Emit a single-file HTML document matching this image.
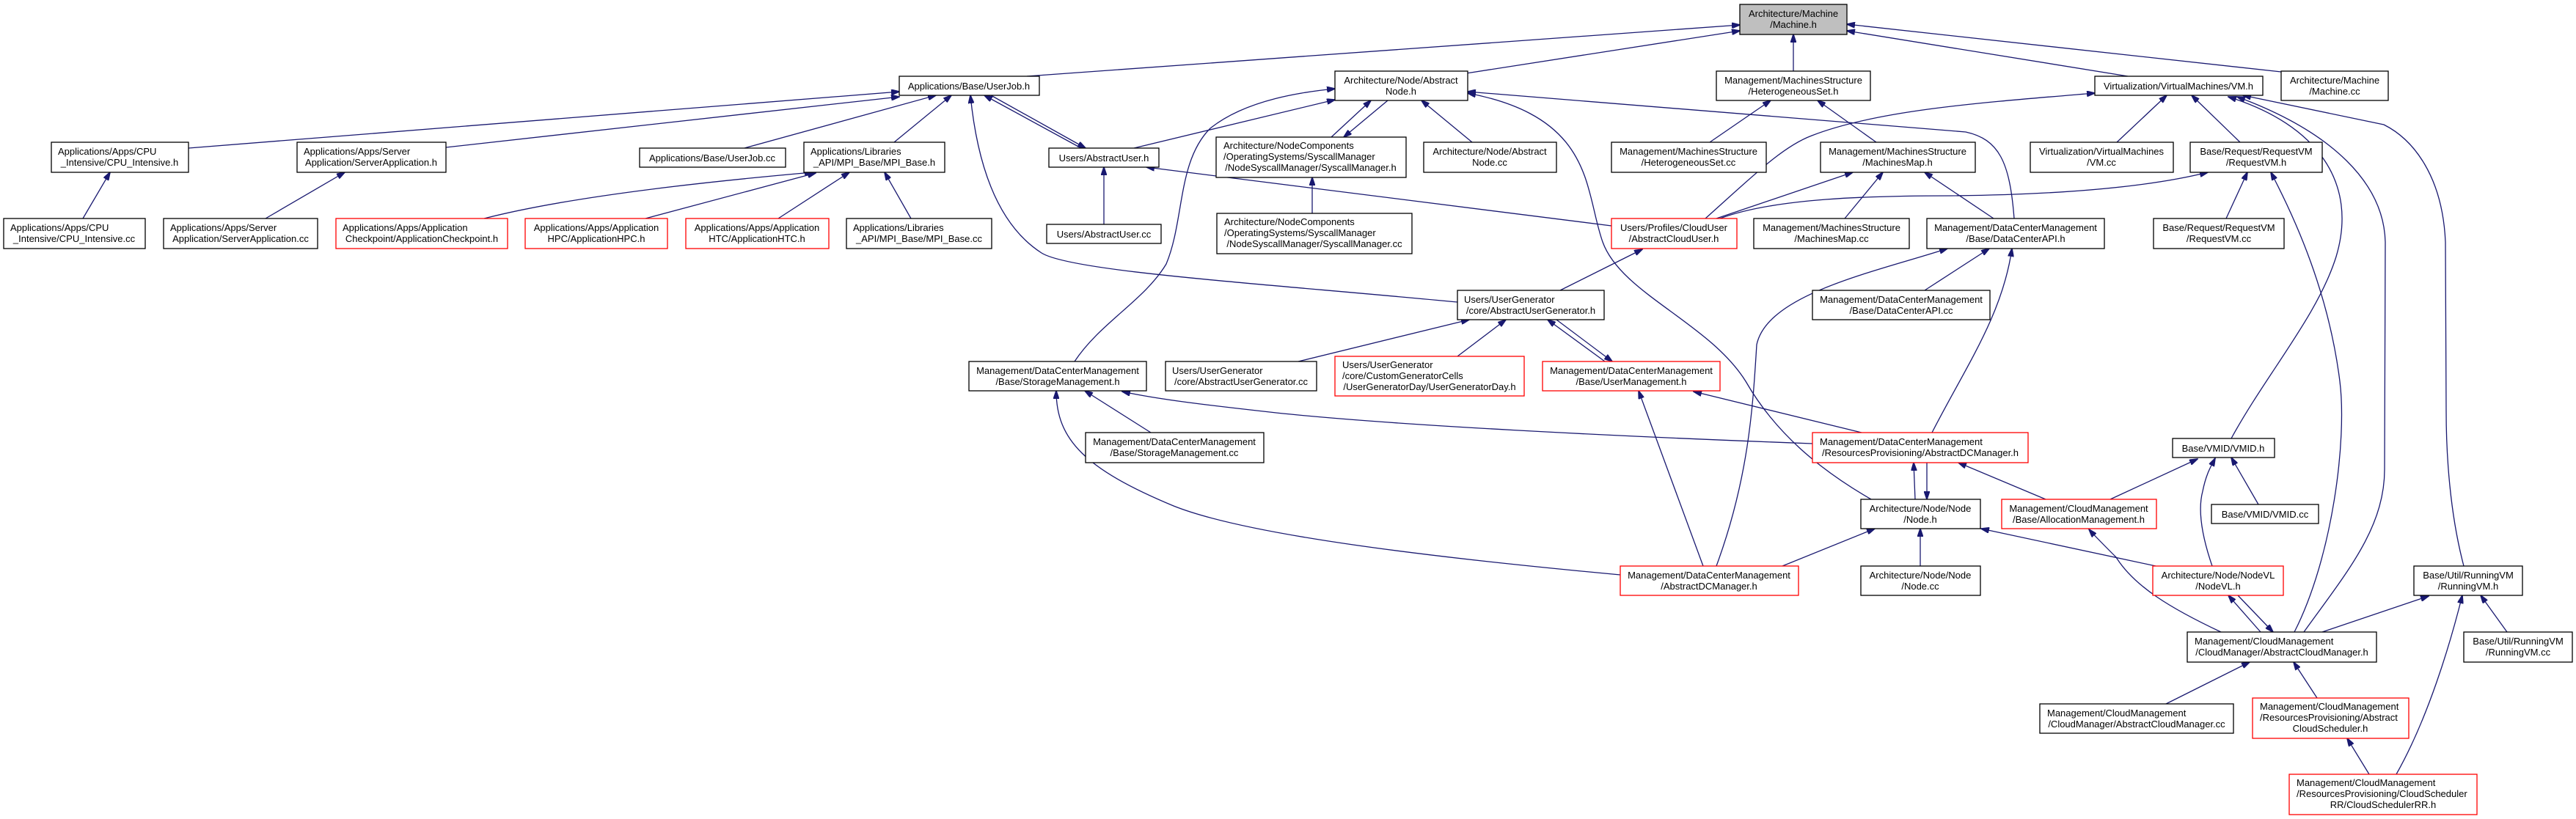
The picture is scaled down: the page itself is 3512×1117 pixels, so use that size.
<!DOCTYPE html>
<html><head><meta charset="utf-8"><style>
html,body{margin:0;padding:0;background:#fff;}
svg{display:block;}
text{font-family:"Liberation Sans",sans-serif;font-size:13px;fill:#000;}
.n{fill:#fff;stroke:#000;stroke-width:1.3;}
.r{fill:#fff;stroke:#ff0000;stroke-width:1.3;}
.g{fill:#bfbfbf;stroke:#000;stroke-width:1.3;}
.e{fill:none;stroke:#191970;stroke-width:1.3;marker-end:url(#a);}
</style></head><body>
<svg width="3512" height="1117" viewBox="0 0 3512 1117" xmlns="http://www.w3.org/2000/svg">
<defs><marker id="a" markerWidth="12" markerHeight="8" refX="11" refY="4" orient="auto" markerUnits="userSpaceOnUse"><path d="M0,0 L12,4 L0,8 z" fill="#191970" stroke="#191970"/></marker></defs>
<rect width="3512" height="1117" fill="#fff"/>
<!-- edges -->
<path class="e" d="M1400,104 L2372,34"/>
<path class="e" d="M1999,100 L2372,42"/>
<path class="e" d="M2445,97 L2445,47"/>
<path class="e" d="M2901,104 L2518,42"/>
<path class="e" d="M3110,98 L2518,33"/>
<path class="e" d="M257,202 L1226,125"/>
<path class="e" d="M608,201 L1226,132"/>
<path class="e" d="M1015,202 L1276,130"/>
<path class="e" d="M1219,194 L1297,130"/>
<path class="e" d="M1474,202 L1342,130"/>
<path class="e" d="M1351,130 L1480,202"/>
<path class="e" d="M1987,412 C1700,385 1460,370 1420,345 C1350,300 1330,200 1323,130"/>
<path class="e" d="M113,298 L150,235"/>
<path class="e" d="M362,298 L470,235"/>
<path class="e" d="M660,298 Q800,262 1108,235"/>
<path class="e" d="M880,298 L1112,236"/>
<path class="e" d="M1061,298 L1158,235"/>
<path class="e" d="M1242,298 L1206,235"/>
<path class="e" d="M1505,306 L1505,228"/>
<path class="e" d="M2197,308 L1563,228"/>
<path class="e" d="M1546,202 L1820,136"/>
<path class="e" d="M1815,187 L1869,137"/>
<path class="e" d="M1892,137 L1832,187"/>
<path class="e" d="M2007,194 L1938,137"/>
<path class="e" d="M1789,291 L1789,242"/>
<path class="e" d="M1465,493 C1500,440 1560,410 1590,360 C1615,300 1605,220 1650,175 C1700,135 1780,125 1820,121"/>
<path class="e" d="M2551,681 C2480,640 2420,590 2380,520 C2330,440 2210,400 2185,330 C2160,260 2175,160 2001,127"/>
<path class="e" d="M2746,298 C2740,220 2725,190 2680,180 L2001,125"/>
<path class="e" d="M2331,194 L2414,137"/>
<path class="e" d="M2558,194 L2478,137"/>
<path class="e" d="M2340,298 L2526,235"/>
<path class="e" d="M2515,298 L2567,235"/>
<path class="e" d="M2718,298 L2624,235"/>
<path class="e" d="M2325,298 C2390,240 2430,200 2470,185 C2560,150 2700,140 2856,127"/>
<path class="e" d="M2345,298 C2420,270 2550,267 2660,267 C2850,265 2950,250 3010,235"/>
<path class="e" d="M2127,396 L2239,340"/>
<path class="e" d="M2624,396 L2712,339"/>
<path class="e" d="M2634,590 C2680,500 2730,430 2743,339"/>
<path class="e" d="M2340,772 C2385,650 2390,550 2395,470 C2410,400 2560,370 2655,339"/>
<path class="e" d="M2886,194 L2954,130"/>
<path class="e" d="M3054,194 L2988,130"/>
<path class="e" d="M3035,298 L3064,235"/>
<path class="e" d="M3128,862 C3180,760 3200,600 3190,520 C3175,400 3130,300 3096,235"/>
<path class="e" d="M3042,598 C3090,510 3160,430 3185,350 C3215,250 3160,170 3038,132"/>
<path class="e" d="M3141,862 C3200,780 3251,720 3251,640 L3252,330 C3250,250 3180,180 3050,132"/>
<path class="e" d="M3359,772 C3340,700 3335,620 3335,560 L3334,330 C3330,240 3290,190 3250,170 L3058,130"/>
<path class="e" d="M2538,590 L2309,534"/>
<path class="e" d="M2471,605 C2200,595 1900,580 1740,563 C1650,553 1580,545 1530,534"/>
<path class="e" d="M2611,681 L2609,631"/>
<path class="e" d="M2627,631 L2627,681"/>
<path class="e" d="M2789,681 L2670,631"/>
<path class="e" d="M2877,681 L2996,626"/>
<path class="e" d="M3016,772 C3005,740 2995,700 3003,670 C3008,645 3015,635 3020,625"/>
<path class="e" d="M3079,688 L3042,624"/>
<path class="e" d="M2618,772 L2618,721"/>
<path class="e" d="M2939,772 L2701,721"/>
<path class="e" d="M2430,772 L2556,721"/>
<path class="e" d="M2209,784 C1950,760 1700,730 1600,690 C1480,640 1440,600 1440,533"/>
<path class="e" d="M2322,772 L2234,533"/>
<path class="e" d="M2188,493 L2110,436"/>
<path class="e" d="M2122,436 L2198,493"/>
<path class="e" d="M1770,493 L2003,436"/>
<path class="e" d="M1987,486 L2053,436"/>
<path class="e" d="M1569,590 L1479,533"/>
<path class="e" d="M3028,862 C2960,830 2910,800 2885,760 C2865,740 2855,730 2848,722"/>
<path class="e" d="M3082,862 L3038,812"/>
<path class="e" d="M3051,812 L3099,862"/>
<path class="e" d="M3166,862 L3311,813"/>
<path class="e" d="M3418,862 L3382,812"/>
<path class="e" d="M3267,1056 C3310,980 3340,880 3357,812"/>
<path class="e" d="M2953,960 L3067,903"/>
<path class="e" d="M3159,952 L3127,903"/>
<path class="e" d="M3230,1056 L3200,1007"/>
<!-- nodes -->
<rect class="g" x="2372" y="6" width="146" height="41"/>
<text x="2445" y="23" text-anchor="middle">Architecture/Machine</text><text x="2445" y="38" text-anchor="middle">/Machine.h</text>
<rect class="n" x="1226" y="104" width="191" height="26"/>
<text x="1321" y="122" text-anchor="middle">Applications/Base/UserJob.h</text>
<rect class="n" x="1820" y="97" width="181" height="40"/>
<text x="1910" y="114" text-anchor="middle">Architecture/Node/Abstract</text><text x="1910" y="129" text-anchor="middle">Node.h</text>
<rect class="n" x="2340" y="97" width="210" height="40"/>
<text x="2445" y="114" text-anchor="middle">Management/MachinesStructure</text><text x="2445" y="129" text-anchor="middle">/HeterogeneousSet.h</text>
<rect class="n" x="2856" y="104" width="229" height="26"/>
<text x="2970" y="122" text-anchor="middle">Virtualization/VirtualMachines/VM.h</text>
<rect class="n" x="3110" y="97" width="146" height="40"/>
<text x="3183" y="114" text-anchor="middle">Architecture/Machine</text><text x="3183" y="129" text-anchor="middle">/Machine.cc</text>
<rect class="n" x="70" y="194" width="187" height="41"/>
<text x="79" y="211">Applications/Apps/CPU</text><text x="163" y="226" text-anchor="middle">_Intensive/CPU_Intensive.h</text>
<rect class="n" x="405" y="194" width="203" height="41"/>
<text x="414" y="211">Applications/Apps/Server</text><text x="506" y="226" text-anchor="middle">Application/ServerApplication.h</text>
<rect class="n" x="872" y="202" width="199" height="26"/>
<text x="971" y="220" text-anchor="middle">Applications/Base/UserJob.cc</text>
<rect class="n" x="1096" y="194" width="192" height="41"/>
<text x="1105" y="211">Applications/Libraries</text><text x="1192" y="226" text-anchor="middle">_API/MPI_Base/MPI_Base.h</text>
<rect class="n" x="1430" y="202" width="150" height="26"/>
<text x="1505" y="220" text-anchor="middle">Users/AbstractUser.h</text>
<rect class="n" x="1658" y="187" width="259" height="55"/>
<text x="1668" y="203">Architecture/NodeComponents</text><text x="1668" y="218">/OperatingSystems/SyscallManager</text><text x="1787" y="233" text-anchor="middle">/NodeSyscallManager/SyscallManager.h</text>
<rect class="n" x="1941" y="194" width="181" height="41"/>
<text x="2031" y="211" text-anchor="middle">Architecture/Node/Abstract</text><text x="2031" y="226" text-anchor="middle">Node.cc</text>
<rect class="n" x="2197" y="194" width="211" height="41"/>
<text x="2302" y="211" text-anchor="middle">Management/MachinesStructure</text><text x="2302" y="226" text-anchor="middle">/HeterogeneousSet.cc</text>
<rect class="n" x="2482" y="194" width="211" height="41"/>
<text x="2587" y="211" text-anchor="middle">Management/MachinesStructure</text><text x="2587" y="226" text-anchor="middle">/MachinesMap.h</text>
<rect class="n" x="2768" y="194" width="195" height="41"/>
<text x="2865" y="211" text-anchor="middle">Virtualization/VirtualMachines</text><text x="2865" y="226" text-anchor="middle">/VM.cc</text>
<rect class="n" x="2986" y="194" width="180" height="41"/>
<text x="3076" y="211" text-anchor="middle">Base/Request/RequestVM</text><text x="3076" y="226" text-anchor="middle">/RequestVM.h</text>
<rect class="n" x="5" y="298" width="193" height="41"/>
<text x="14" y="315">Applications/Apps/CPU</text><text x="101" y="330" text-anchor="middle">_Intensive/CPU_Intensive.cc</text>
<rect class="n" x="223" y="298" width="210" height="41"/>
<text x="232" y="315">Applications/Apps/Server</text><text x="328" y="330" text-anchor="middle">Application/ServerApplication.cc</text>
<rect class="r" x="458" y="298" width="234" height="41"/>
<text x="467" y="315">Applications/Apps/Application</text><text x="575" y="330" text-anchor="middle">Checkpoint/ApplicationCheckpoint.h</text>
<rect class="r" x="716" y="298" width="194" height="41"/>
<text x="813" y="315" text-anchor="middle">Applications/Apps/Application</text><text x="813" y="330" text-anchor="middle">HPC/ApplicationHPC.h</text>
<rect class="r" x="935" y="298" width="195" height="41"/>
<text x="1032" y="315" text-anchor="middle">Applications/Apps/Application</text><text x="1032" y="330" text-anchor="middle">HTC/ApplicationHTC.h</text>
<rect class="n" x="1154" y="298" width="198" height="41"/>
<text x="1163" y="315">Applications/Libraries</text><text x="1253" y="330" text-anchor="middle">_API/MPI_Base/MPI_Base.cc</text>
<rect class="n" x="1427" y="306" width="156" height="26"/>
<text x="1505" y="324" text-anchor="middle">Users/AbstractUser.cc</text>
<rect class="n" x="1659" y="291" width="266" height="55"/>
<text x="1669" y="307">Architecture/NodeComponents</text><text x="1669" y="322">/OperatingSystems/SyscallManager</text><text x="1792" y="337" text-anchor="middle">/NodeSyscallManager/SyscallManager.cc</text>
<rect class="r" x="2197" y="298" width="171" height="41"/>
<text x="2282" y="315" text-anchor="middle">Users/Profiles/CloudUser</text><text x="2282" y="330" text-anchor="middle">/AbstractCloudUser.h</text>
<rect class="n" x="2391" y="298" width="212" height="41"/>
<text x="2497" y="315" text-anchor="middle">Management/MachinesStructure</text><text x="2497" y="330" text-anchor="middle">/MachinesMap.cc</text>
<rect class="n" x="2627" y="298" width="242" height="41"/>
<text x="2748" y="315" text-anchor="middle">Management/DataCenterManagement</text><text x="2748" y="330" text-anchor="middle">/Base/DataCenterAPI.h</text>
<rect class="n" x="2936" y="298" width="178" height="41"/>
<text x="3025" y="315" text-anchor="middle">Base/Request/RequestVM</text><text x="3025" y="330" text-anchor="middle">/RequestVM.cc</text>
<rect class="n" x="1987" y="396" width="200" height="40"/>
<text x="1996" y="413">Users/UserGenerator</text><text x="2087" y="428" text-anchor="middle">/core/AbstractUserGenerator.h</text>
<rect class="n" x="2471" y="396" width="242" height="40"/>
<text x="2592" y="413" text-anchor="middle">Management/DataCenterManagement</text><text x="2592" y="428" text-anchor="middle">/Base/DataCenterAPI.cc</text>
<rect class="n" x="1321" y="493" width="242" height="40"/>
<text x="1442" y="510" text-anchor="middle">Management/DataCenterManagement</text><text x="1442" y="525" text-anchor="middle">/Base/StorageManagement.h</text>
<rect class="n" x="1589" y="493" width="206" height="40"/>
<text x="1598" y="510">Users/UserGenerator</text><text x="1692" y="525" text-anchor="middle">/core/AbstractUserGenerator.cc</text>
<rect class="r" x="1820" y="486" width="258" height="54"/>
<text x="1830" y="502">Users/UserGenerator</text><text x="1830" y="517">/core/CustomGeneratorCells</text><text x="1949" y="532" text-anchor="middle">/UserGeneratorDay/UserGeneratorDay.h</text>
<rect class="r" x="2103" y="493" width="242" height="40"/>
<text x="2224" y="510" text-anchor="middle">Management/DataCenterManagement</text><text x="2224" y="525" text-anchor="middle">/Base/UserManagement.h</text>
<rect class="n" x="1480" y="590" width="243" height="41"/>
<text x="1601" y="607" text-anchor="middle">Management/DataCenterManagement</text><text x="1601" y="622" text-anchor="middle">/Base/StorageManagement.cc</text>
<rect class="r" x="2471" y="590" width="294" height="41"/>
<text x="2481" y="607">Management/DataCenterManagement</text><text x="2618" y="622" text-anchor="middle">/ResourcesProvisioning/AbstractDCManager.h</text>
<rect class="n" x="2962" y="598" width="139" height="26"/>
<text x="3031" y="616" text-anchor="middle">Base/VMID/VMID.h</text>
<rect class="n" x="2537" y="681" width="163" height="40"/>
<text x="2618" y="698" text-anchor="middle">Architecture/Node/Node</text><text x="2618" y="713" text-anchor="middle">/Node.h</text>
<rect class="r" x="2729" y="681" width="211" height="40"/>
<text x="2834" y="698" text-anchor="middle">Management/CloudManagement</text><text x="2834" y="713" text-anchor="middle">/Base/AllocationManagement.h</text>
<rect class="n" x="3015" y="688" width="146" height="26"/>
<text x="3088" y="706" text-anchor="middle">Base/VMID/VMID.cc</text>
<rect class="r" x="2209" y="772" width="243" height="40"/>
<text x="2330" y="789" text-anchor="middle">Management/DataCenterManagement</text><text x="2330" y="804" text-anchor="middle">/AbstractDCManager.h</text>
<rect class="n" x="2537" y="772" width="163" height="40"/>
<text x="2618" y="789" text-anchor="middle">Architecture/Node/Node</text><text x="2618" y="804" text-anchor="middle">/Node.cc</text>
<rect class="r" x="2935" y="772" width="178" height="40"/>
<text x="3024" y="789" text-anchor="middle">Architecture/Node/NodeVL</text><text x="3024" y="804" text-anchor="middle">/NodeVL.h</text>
<rect class="n" x="3291" y="772" width="148" height="40"/>
<text x="3365" y="789" text-anchor="middle">Base/Util/RunningVM</text><text x="3365" y="804" text-anchor="middle">/RunningVM.h</text>
<rect class="n" x="2982" y="862" width="258" height="41"/>
<text x="2992" y="879">Management/CloudManagement</text><text x="3111" y="894" text-anchor="middle">/CloudManager/AbstractCloudManager.h</text>
<rect class="n" x="3359" y="862" width="148" height="41"/>
<text x="3433" y="879" text-anchor="middle">Base/Util/RunningVM</text><text x="3433" y="894" text-anchor="middle">/RunningVM.cc</text>
<rect class="n" x="2781" y="960" width="264" height="40"/>
<text x="2791" y="977">Management/CloudManagement</text><text x="2913" y="992" text-anchor="middle">/CloudManager/AbstractCloudManager.cc</text>
<rect class="r" x="3071" y="952" width="213" height="55"/>
<text x="3081" y="968">Management/CloudManagement</text><text x="3081" y="983">/ResourcesProvisioning/Abstract</text><text x="3177" y="998" text-anchor="middle">CloudScheduler.h</text>
<rect class="r" x="3121" y="1056" width="256" height="55"/>
<text x="3131" y="1072">Management/CloudManagement</text><text x="3131" y="1087">/ResourcesProvisioning/CloudScheduler</text><text x="3249" y="1102" text-anchor="middle">RR/CloudSchedulerRR.h</text>
</svg>
</body></html>
